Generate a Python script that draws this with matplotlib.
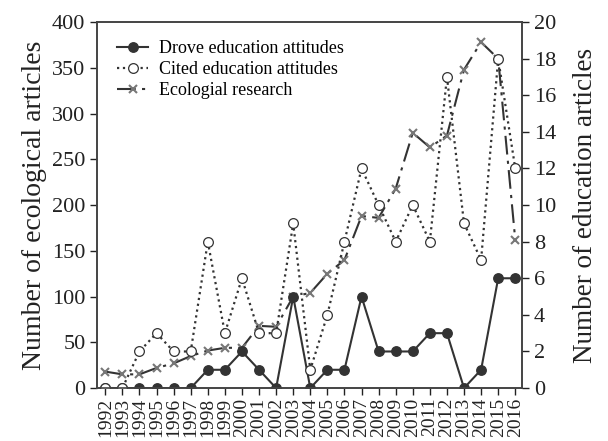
import matplotlib
matplotlib.use("Agg")
import matplotlib.pyplot as plt
from matplotlib.lines import Line2D

plt.rcParams['font.family'] = ['Liberation Serif', 'DejaVu Serif']

years = list(range(1992, 2017))
year_labels = [str(y) for y in years]
drove = [0, 0, 0, 0, 0, 0, 1, 1, 2, 1, 0, 5, 0, 1, 1, 5, 2, 2, 2, 3, 3, 0, 1, 6, 6]
cited = [0, 0, 2, 3, 2, 2, 8, 3, 6, 3, 3, 9, 1, 4, 8, 12, 10, 8, 10, 8, 17, 9, 7, 18, 12]
ecological = [18, 15, 15, 22, 27, 35, 41, 44, 44, 68, 67, 100, 104, 125, 140, 188, 186, 218,
              279, 263, 276, 348, 378, 360, 162]

fig = plt.figure(figsize=(6.08, 4.41), dpi=100)
ax = fig.add_axes([0.16, 0.12, 0.699, 0.83])
ax2 = ax.twinx()

eco_style = dict(color='#333333', linestyle=(0, (9, 3, 1.5, 3)), linewidth=1.5,
                 marker='x', markersize=5.5, markeredgewidth=1.5, markeredgecolor='#777777')
drove_style = dict(color='#333333', linestyle='-', linewidth=1.5, marker='o', markersize=6.8,
                   markerfacecolor='#333333', markeredgecolor='#333333')
cited_style = dict(color='#333333', linestyle=':', linewidth=1.6, marker='o', markersize=7,
                   markerfacecolor='white', markeredgecolor='#333333', markeredgewidth=0.9)

x = list(range(len(years)))
ax.plot(x, ecological, zorder=3, **eco_style)
ax2.plot(x, drove, **drove_style)
ax2.plot(x, cited, **cited_style)

ax.set_xlim(-0.47, len(years) - 0.59)
ax.set_ylim(0, 400)
ax2.set_ylim(0, 20)
ax.set_yticks(range(0, 401, 50))
ax2.set_yticks(range(0, 21, 2))
ax.set_xticks(x)
ax.set_xticklabels(year_labels, rotation=90, fontsize=14)
ax.tick_params(axis='y', labelsize=16, length=5, width=1, colors='#222222')
ax2.tick_params(axis='y', labelsize=16, length=5, width=1, colors='#222222')
ax.tick_params(axis='x', length=5, width=1, pad=2, colors='#222222')
ax.set_ylabel('Number of ecological articles', fontsize=20, color='#222222', labelpad=4)
ax2.set_ylabel('Number of education articles', fontsize=19.5, color='#222222', labelpad=12)
for a in (ax, ax2):
    for s in a.spines.values():
        s.set_color('#444444')
        s.set_linewidth(1.2)

handles = [Line2D([], [], **drove_style), Line2D([], [], **cited_style), Line2D([], [], **eco_style)]
labels = ['Drove education attitudes', 'Cited education attitudes', 'Ecologial research']
ax2.legend(handles, labels, loc='upper left', bbox_to_anchor=(0.03, 0.97), frameon=False,
           fontsize=13, handlelength=1.7, handletextpad=0.6, labelspacing=0.22, borderaxespad=0)

fig.savefig('out.png', dpi=100)
